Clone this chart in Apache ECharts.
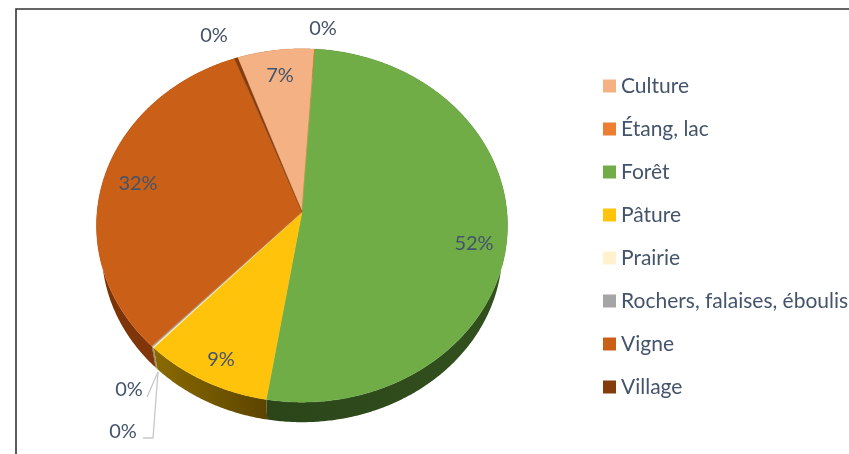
<!DOCTYPE html>
<html><head><meta charset="utf-8">
<style>html,body{margin:0;padding:0;background:#fff;overflow:hidden}#c{width:849px;height:454px}</style>
<script src="https://cdn.jsdelivr.net/npm/echarts@6/dist/echarts.min.js"></script>
</head><body><div id="c"></div>
<script>
const categories = ['Culture','Étang, lac','Forêt','Pâture','Prairie','Rochers, falaises, éboulis','Vigne','Village'];
const shares = [6.5,0.05,51.5,9.4,0.1,0.1,32.1,0.25];
const topColors = ['#f4b183','#ed7d31','#70ad47','#ffc30b','#fff2cc','#a5a5a5','#ca5f17','#843c0c'];
const sideColors = [['#7f5a3a','#7f5a3a'],['#7a3f18','#7a3f18'],['#2b4519','#33511f'],['#8a6a00','#5c4400'],['#8a8468','#8a8468'],['#8a6a20','#8a6a20'],['#7a3208','#8a3d0c'],['#4d2207','#4d2207']];
const firstAngle = 340.3;
const labelSpots = [[280,76],[323,29],[474,244],[221,360],[129,390],[123,432],[138,184],[214,36]];
const leaderLines = {4:[[158,372],[147,397]],5:[[158,372],[153,438],[143,438]]};
const P = {ax:302,ay:212,A:204.9,B:175.7,k:0.076,s:0.975,d:24.8};
function proj(deg,lower){
  const r=deg*Math.PI/180,x=Math.sin(r),z=Math.cos(r),w=1+P.k*z;
  let X=P.A*x/w,Y=-P.B*z/w;
  if(lower){X*=P.s;Y=Y*P.s+P.d;}
  return [P.ax+X,P.ay+Y];
}
function arc(a,b,lower){const pts=[],n=Math.max(2,Math.ceil((b-a)*2));for(let i=0;i<=n;i++)pts.push(proj(a+(b-a)*i/n,lower));return pts;}
const total=shares.reduce((s,v)=>s+v,0);
let cursor=firstAngle;
const series=categories.map((name,i)=>{
  const start=cursor,end=cursor+shares[i]/total*360;cursor=end;
  return {
    type:'custom',name,coordinateSystem:'none',
    itemStyle:{color:topColors[i]},
    data:[[start,end,shares[i]/total*100]],
    renderItem(params,api){
      const a=api.value(0),b=api.value(1),pct=Math.round(api.value(2))+'%';
      const upper=arc(a,b,false),lower=arc(a,b,true).reverse();
      const kids=[
        {type:'polygon',z2:1,shape:{points:upper.concat(lower)},
         style:{fill:{type:'linear',x:0,y:0,x2:1,y2:0,colorStops:[{offset:0,color:sideColors[i][0]},{offset:1,color:sideColors[i][1]}]}}},
        {type:'polygon',z2:5,shape:{points:[[P.ax,P.ay]].concat(upper)},style:{fill:topColors[i],stroke:topColors[i],lineWidth:0.4}},
        {type:'text',z2:20,style:{text:pct,x:labelSpots[i][0],y:labelSpots[i][1],align:'center',verticalAlign:'middle',fill:'#44546a',font:'20px Lato'}}
      ];
      if(leaderLines[i])kids.push({type:'polyline',z2:10,shape:{points:leaderLines[i]},style:{stroke:'#c8c8c8',lineWidth:1.3,fill:'none'}});
      return {type:'group',children:kids};
    }
  };
});
const chart=echarts.init(document.getElementById('c'),null,{renderer:'canvas'});
chart.setOption({
  animation:false,backgroundColor:'#fff',
  graphic:[{type:'polyline',shape:{points:[[16,460],[16,9],[860,9]]},style:{stroke:'#333',lineWidth:1.6,fill:'none'},silent:true}],
  legend:{orient:'vertical',left:598,top:69,data:categories,icon:'rect',itemWidth:13,itemHeight:13,itemGap:19,selectedMode:false,
    textStyle:{color:'#44546a',fontFamily:'Lato',fontSize:21,padding:[0,0,0,0],height:24,lineHeight:24}},
  series
});
</script></body></html>
